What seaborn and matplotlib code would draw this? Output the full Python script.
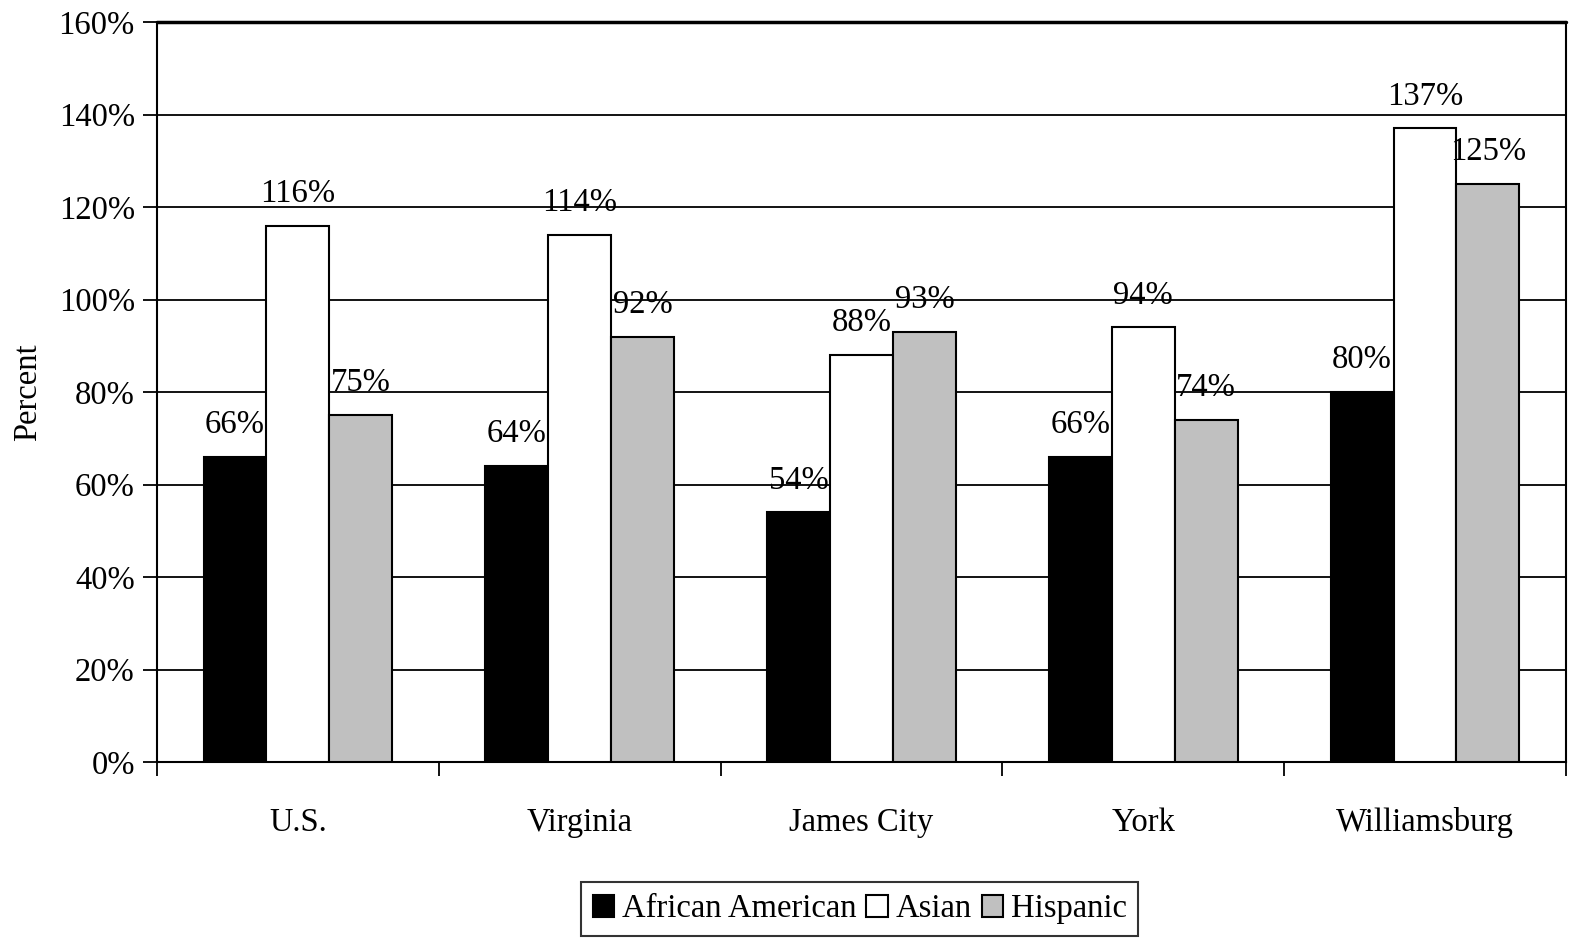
import seaborn as sns
import pandas as pd
import matplotlib.pyplot as plt
from matplotlib.ticker import PercentFormatter

regions = ['U.S.', 'Virginia', 'James City', 'York', 'Williamsburg']
groups = ['African American', 'Asian', 'Hispanic']
african_american = [66, 64, 54, 66, 80]
asian = [116, 114, 88, 94, 137]
hispanic = [75, 92, 93, 74, 125]
colors = ['#000000', '#FFFFFF', '#C0C0C0']

df = pd.DataFrame({
    'region': regions * 3,
    'group': [groups[0]] * 5 + [groups[1]] * 5 + [groups[2]] * 5,
    'value': african_american + asian + hispanic,
})

sns.set_style('white')
plt.rcParams['font.family'] = ['Liberation Serif', 'DejaVu Serif']
plt.rcParams['text.color'] = 'black'
plt.rcParams['axes.labelcolor'] = 'black'
plt.rcParams['xtick.color'] = 'black'
plt.rcParams['ytick.color'] = 'black'

fs = 23.5

fig = plt.figure(figsize=(15.69, 9.41), dpi=100)
ax = fig.add_axes([0.1001, 0.1902, 0.8979, 0.7864])

sns.barplot(data=df, x='region', y='value', hue='group', order=regions,
            hue_order=groups, palette=colors, saturation=1, width=0.67,
            edgecolor='black', linewidth=1.5, ax=ax, zorder=3, legend=True)

for c in ax.containers:
    ax.bar_label(c, labels=[f'{v:.0f}%' for v in c.datavalues], padding=12,
                 fontsize=fs, color='black', zorder=4)

ax.set_ylim(0, 160)
ax.set_xlim(-0.5, 4.5)
ax.set_yticks(range(0, 161, 20))
ax.yaxis.set_major_formatter(PercentFormatter(decimals=0))
ax.grid(axis='y', color='black', linewidth=1.3, zorder=0)
ax.set_axisbelow(True)

ax.set_xlabel('')
ax.set_ylabel('Percent', fontsize=fs)
ax.yaxis.set_label_coords(-0.081, 0.5)
ax.tick_params(axis='y', labelsize=fs, left=True, length=10, width=1.3, pad=6)
ax.tick_params(axis='x', which='major', labelsize=fs, bottom=False, pad=29)
ax.set_xticks([-0.5, 0.5, 1.5, 2.5, 3.5, 4.5], minor=True)
ax.tick_params(axis='x', which='minor', bottom=True, length=10, width=1.3)

ax.spines['top'].set_visible(False)
for s in ['left', 'bottom', 'right']:
    ax.spines[s].set_color('black')
    ax.spines[s].set_linewidth(1.5)
ax.axhline(160, color='black', linewidth=2.5, clip_on=False)

handles, labels = ax.get_legend_handles_labels()
ax.legend_.remove()
leg = fig.legend(handles, labels, loc='center', bbox_to_anchor=(0.548, 0.034),
                 ncol=3, fontsize=fs, frameon=True, fancybox=False,
                 edgecolor='black', handlelength=0.65, handleheight=0.65,
                 handletextpad=0.25, columnspacing=0.3, borderpad=0.35,
                 borderaxespad=0)
leg.get_frame().set_linewidth(1.5)

fig.savefig('out.png', dpi=100)
